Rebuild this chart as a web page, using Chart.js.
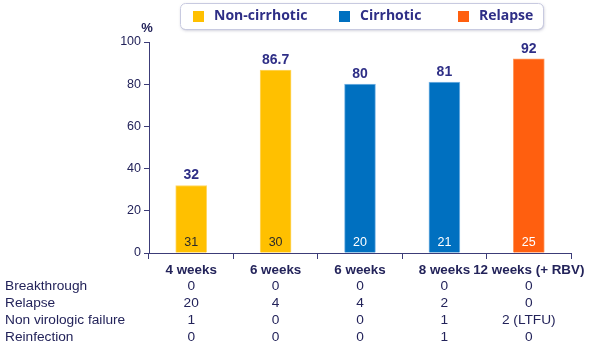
<!DOCTYPE html>
<html>
<head>
<meta charset="utf-8">
<script src="https://cdn.jsdelivr.net/npm/chart.js@4/dist/chart.umd.min.js"></script>
<style>
  html, body { margin: 0; padding: 0; background: #ffffff; }
  #wrap { width: 597px; height: 347px; }
</style>
</head>
<body>
<div id="wrap"><canvas id="c" width="597" height="347"></canvas></div>
<script>
// ---- Data ----
const categories = ['4 weeks', '6 weeks', '6 weeks', '8 weeks', '12 weeks (+ RBV)'];
const seriesNames = ['Non-cirrhotic', 'Cirrhotic', 'Relapse'];
const nonCirrhotic = [32, 86.7, null, null, null];
const cirrhotic = [null, null, 80, 81, null];
const relapse = [null, null, null, null, 92];
const patientCounts = [31, 30, 20, 21, 25];
const tableRowLabels = ['Breakthrough', 'Relapse', 'Non virologic failure', 'Reinfection'];
const breakthroughRow = ['0', '0', '0', '0', '0'];
const relapseRow = ['20', '4', '4', '2', '0'];
const nonVirologicRow = ['1', '0', '0', '1', '2 (LTFU)'];
const reinfectionRow = ['0', '0', '0', '1', '0'];
const yMin = 0, yMax = 100, yStep = 20;

// ---- Styles ----
const FONT = '"Liberation Sans", Arial, sans-serif';
const NAVY = '#23235a';
const LABEL_BLUE = '#2e2e86';
const AXIS = '#3c3c78';
const colors = ['#FFC000', '#0070C0', '#FF5F0F'];
const borders = ['#ffd766', '#7fb8e6', '#ff9a60'];
const countColors = ['#2a2a2a', '#ffffff', '#ffffff'];

const tableRows = [breakthroughRow, relapseRow, nonVirologicRow, reinfectionRow];

const overlayPlugin = {
  id: 'overlay',
  afterDatasetsDraw(chart) {
    const ctx = chart.ctx;
    const xs = chart.scales.x;
    const ys = chart.scales.y;
    ctx.save();
    // value labels & counts
    chart.data.datasets.forEach((ds, di) => {
      const meta = chart.getDatasetMeta(di);
      meta.data.forEach((bar, i) => {
        const v = ds.data[i];
        if (v === null || v === undefined) return;
        ctx.font = 'bold 14px ' + FONT;
        ctx.fillStyle = LABEL_BLUE;
        ctx.textAlign = 'center';
        ctx.textBaseline = 'middle';
        ctx.fillText(String(v), bar.x, bar.y - 10);
        ctx.font = '12.5px ' + FONT;
        ctx.fillStyle = countColors[di];
        ctx.fillText(String(patientCounts[i]), bar.x, ys.getPixelForValue(0) - 10);
      });
    });
    // % label
    ctx.font = 'bold 13px ' + FONT;
    ctx.fillStyle = NAVY;
    ctx.textAlign = 'center';
    ctx.fillText('%', xs.left - 2, 28);
    // table
    const rowY = [286.5, 303, 320, 337];
    ctx.font = '13.7px ' + FONT;
    ctx.fillStyle = NAVY;
    tableRows.forEach((row, r) => {
      ctx.textAlign = 'left';
      ctx.fillText(tableRowLabels[r], 5, rowY[r]);
      ctx.textAlign = 'center';
      row.forEach((val, i) => {
        ctx.fillText(val, xs.getPixelForValue(i), rowY[r]);
      });
    });
    // legend
    const lx = 180, ly = 3, lw = 363, lh = 26, rr = 5;
    ctx.save();
    ctx.shadowColor = 'rgba(80,80,120,0.35)';
    ctx.shadowBlur = 3;
    ctx.shadowOffsetX = 1;
    ctx.shadowOffsetY = 1.5;
    ctx.beginPath();
    ctx.roundRect(lx, ly, lw, lh, rr);
    ctx.fillStyle = '#ffffff';
    ctx.fill();
    ctx.restore();
    ctx.beginPath();
    ctx.roundRect(lx + 0.5, ly + 0.5, lw, lh, rr);
    ctx.strokeStyle = '#c8cae0';
    ctx.lineWidth = 1;
    ctx.stroke();
    const boxX = [193, 339, 458];
    ctx.font = 'bold 14px "Open Sans", ' + FONT;
    ctx.textAlign = 'left';
    ctx.textBaseline = 'middle';
    chart.data.datasets.forEach((ds, di) => {
      ctx.fillStyle = ds.backgroundColor;
      ctx.fillRect(boxX[di], 11, 11, 11);
      ctx.fillStyle = LABEL_BLUE;
      ctx.fillText(ds.label, boxX[di] + 21, 16.5);
    });
    ctx.restore();
  }
};

new Chart(document.getElementById('c'), {
  type: 'bar',
  data: {
    labels: categories,
    datasets: [nonCirrhotic, cirrhotic, relapse].map((d, i) => ({
      label: seriesNames[i],
      data: d,
      backgroundColor: colors[i],
      borderColor: borders[i],
      borderWidth: { top: 1, left: 1, right: 1, bottom: 0 },
      barThickness: 31,
      grouped: false
    }))
  },
  options: {
    responsive: false,
    animation: false,
    devicePixelRatio: 1,
    layout: { padding: { top: 42, right: 26, bottom: 0, left: 0 } },
    plugins: {
      legend: { display: false },
      tooltip: { enabled: false }
    },
    scales: {
      x: {
        offset: true,
        afterFit(scale) { scale.height = 94; },
        grid: {
          offset: true,
          drawOnChartArea: false,
          drawTicks: true,
          tickLength: 6,
          color: AXIS
        },
        border: { display: true, color: AXIS, width: 1 },
        ticks: {
          autoSkip: false,
          maxRotation: 0,
          minRotation: 0,
          padding: 3,
          color: NAVY,
          font: { family: FONT, size: 13.4, weight: 'bold' }
        }
      },
      y: {
        min: yMin,
        max: yMax,
        afterFit(scale) { scale.width = 149; },
        grid: {
          drawOnChartArea: false,
          drawTicks: true,
          tickLength: 5,
          color: AXIS
        },
        border: { display: true, color: AXIS, width: 1 },
        ticks: {
          stepSize: yStep,
          padding: 3,
          color: NAVY,
          font: { family: FONT, size: 12.5 }
        }
      }
    }
  },
  plugins: [overlayPlugin]
});
</script>
</body>
</html>
